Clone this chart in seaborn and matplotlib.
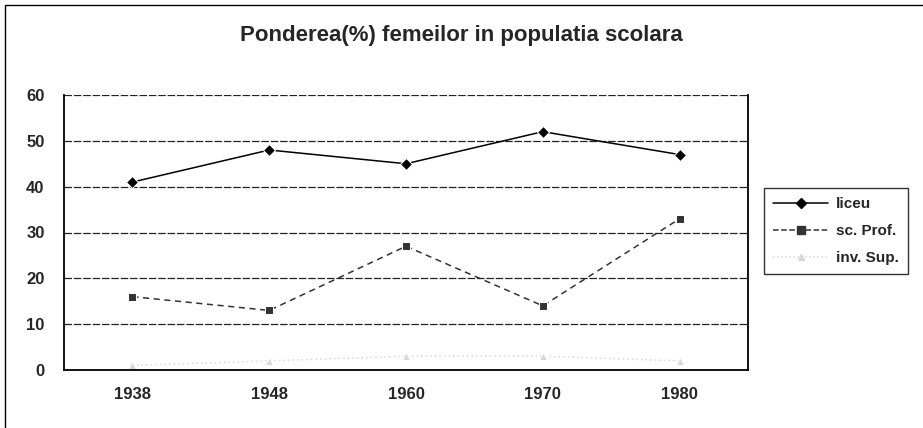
import numpy as np
import pandas as pd
import matplotlib
matplotlib.use("Agg")
import matplotlib.pyplot as plt
import seaborn as sns
from matplotlib.patches import Rectangle

# data
years = ["1938", "1948", "1960", "1970", "1980"]
liceu = [41, 48, 45, 52, 47]
sc_prof = [16, 13, 27, 14, 33]
inv_sup = [1, 2, 3, 3, 2]

series_names = ["liceu", "sc. Prof.", "inv. Sup."]

pos = np.arange(len(years))
df = pd.DataFrame({
    "pos": np.tile(pos, 3),
    "value": liceu + sc_prof + inv_sup,
    "serie": np.repeat(series_names, len(years)),
})

sns.set_theme(style="white")
plt.rcParams["font.family"] = ["Liberation Sans", "DejaVu Sans"]

fig = plt.figure(figsize=(9.23, 4.28), dpi=100)
W, H = 923, 428
ax = fig.add_axes([64 / W, 1 - 370 / H, (748 - 64) / W, (370 - 95) / H])

palette = {"liceu": "black", "sc. Prof.": "#333333", "inv. Sup.": "#d8d8d8"}
markers = {"liceu": "D", "sc. Prof.": "s", "inv. Sup.": "^"}
dashes = {"liceu": "", "sc. Prof.": (4, 3), "inv. Sup.": (1, 2)}

sns.lineplot(data=df, x="pos", y="value", hue="serie", style="serie",
             palette=palette, markers=markers, dashes=dashes,
             markersize=6, linewidth=1.1, ax=ax, legend=False)

ax.set_xlim(-0.5, len(years) - 0.5)
ax.set_ylim(0, 60)
ax.set_yticks(range(0, 61, 10))
ax.set_xticks(pos)
ax.set_xticklabels(years)
ax.set_xticks(np.arange(-0.5, len(years), 1), minor=True)
ax.tick_params(axis="x", which="major", length=0, pad=12)
ax.tick_params(axis="x", which="minor", length=5, width=1, color="black", direction="out")
ax.tick_params(axis="y", length=0, pad=14)
for lbl in ax.get_xticklabels() + ax.get_yticklabels():
    lbl.set_fontweight("bold")
    lbl.set_fontsize(12)
ax.set_xlabel("")
ax.set_ylabel("")

for y in range(10, 61, 10):
    ax.axhline(y, color="#222222", linewidth=0.9, linestyle=(0, (6, 1.5)), zorder=0)

for side in ["left", "bottom", "right"]:
    ax.spines[side].set_visible(True)
    ax.spines[side].set_color("black")
    ax.spines[side].set_linewidth(1.3)
ax.spines["top"].set_visible(False)

fig.text(0.5, 1 - 36 / H, "Ponderea(%) femeilor in populatia scolara",
         ha="center", va="center", fontsize=16, fontweight="bold")

handles = [
    plt.Line2D([], [], color="black", marker="D", markersize=5, linewidth=1.1),
    plt.Line2D([], [], color="#333333", marker="s", markersize=6, linewidth=1.1, linestyle="--"),
    plt.Line2D([], [], color="#d8d8d8", marker="^", markersize=4, linewidth=1.1, linestyle=":"),
]
leg = fig.legend(handles, series_names, loc="upper left",
                 bbox_to_anchor=(764 / W, 1 - 188 / H), frameon=True,
                 fancybox=False, handlelength=3.6, handletextpad=0.5,
                 borderpad=0.6, borderaxespad=0,
                 labelspacing=0.85, prop={"weight": "bold", "size": 11})
leg.get_frame().set_edgecolor("black")
leg.get_frame().set_linewidth(1.0)

# outer chart border (scan shows left and top edges)
fig.patches.append(Rectangle((5 / W, -0.1), 1.2, 1 - 5 / H + 0.1,
                             transform=fig.transFigure, fill=False,
                             edgecolor="black", linewidth=1.0))

fig.savefig("out.png", dpi=100)
